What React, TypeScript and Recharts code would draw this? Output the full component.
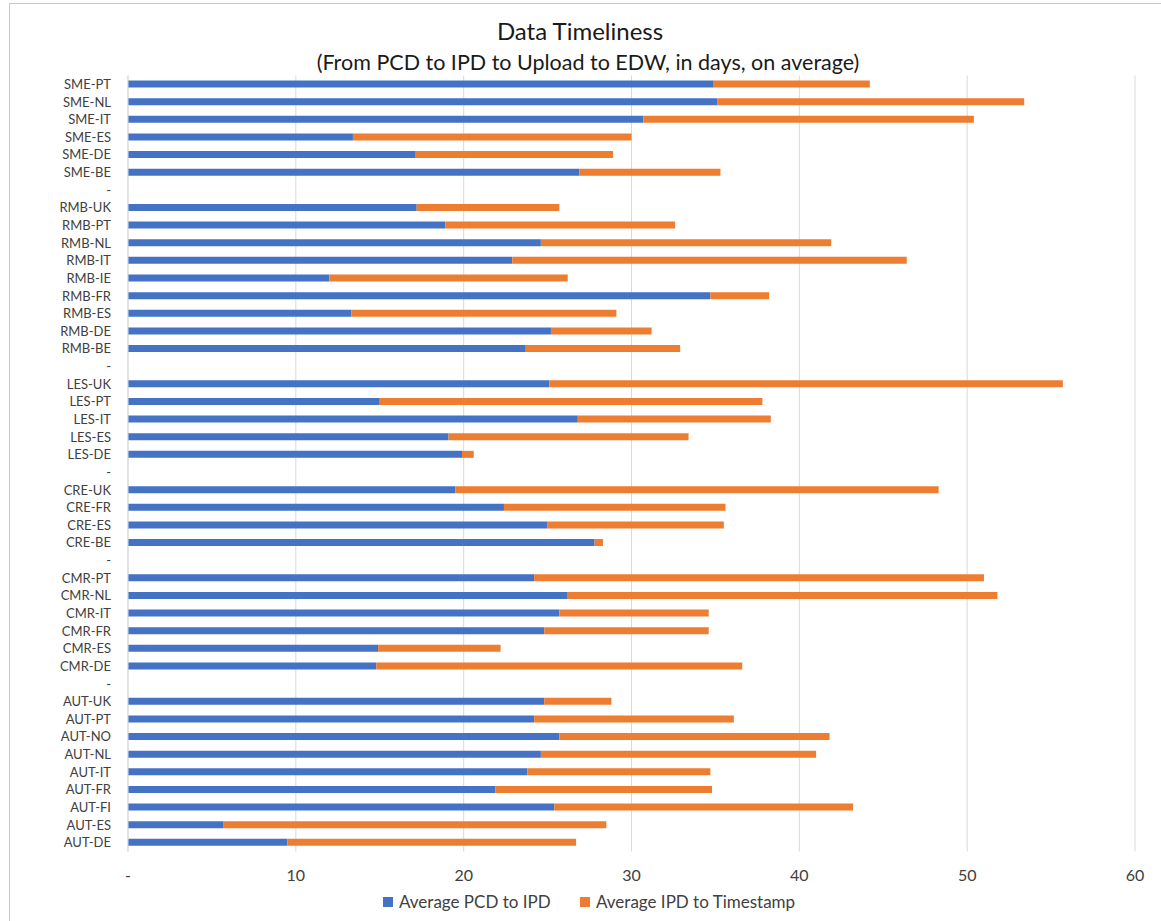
import React from "react";
import { BarChart, Bar, XAxis, YAxis, CartesianGrid } from "recharts";

const categories = [
  "SME-PT", "SME-NL", "SME-IT", "SME-ES", "SME-DE", "SME-BE", "-",
  "RMB-UK", "RMB-PT", "RMB-NL", "RMB-IT", "RMB-IE", "RMB-FR", "RMB-ES", "RMB-DE", "RMB-BE", "-",
  "LES-UK", "LES-PT", "LES-IT", "LES-ES", "LES-DE", "-",
  "CRE-UK", "CRE-FR", "CRE-ES", "CRE-BE", "-",
  "CMR-PT", "CMR-NL", "CMR-IT", "CMR-FR", "CMR-ES", "CMR-DE", "-",
  "AUT-UK", "AUT-PT", "AUT-NO", "AUT-NL", "AUT-IT", "AUT-FR", "AUT-FI", "AUT-ES", "AUT-DE",
];

const pcdToIpd = [
  34.9, 35.1, 30.7, 13.4, 17.1, 26.9, null,
  17.2, 18.9, 24.6, 22.9, 12.0, 34.7, 13.3, 25.2, 23.7, null,
  25.1, 15.0, 26.8, 19.1, 19.9, null,
  19.5, 22.4, 25.0, 27.8, null,
  24.2, 26.2, 25.7, 24.8, 14.9, 14.8, null,
  24.8, 24.2, 25.7, 24.6, 23.8, 21.9, 25.4, 5.7, 9.5,
];

const ipdToTimestamp = [
  9.3, 18.3, 19.7, 16.6, 11.8, 8.4, null,
  8.5, 13.7, 17.3, 23.5, 14.2, 3.5, 15.8, 6.0, 9.2, null,
  30.6, 22.8, 11.5, 14.3, 0.7, null,
  28.8, 13.2, 10.5, 0.5, null,
  26.8, 25.6, 8.9, 9.8, 7.3, 21.8, null,
  4.0, 11.9, 16.1, 16.4, 10.9, 12.9, 17.8, 22.8, 17.2,
];

const xTicks = [0, 10, 20, 30, 40, 50, 60];

const seriesNames = ["Average PCD to IPD", "Average IPD to Timestamp"];
const seriesColors = ["#4472C4", "#ED7D31"];

const data = categories.map((label, i) => ({
  key: `${i}`,
  label,
  pcd: pcdToIpd[i],
  ipd: ipdToTimestamp[i],
}));

const FONT = "Lato, 'Open Sans', sans-serif";

export default function App() {
  return (
    <div
      style={{
        position: "absolute",
        left: 0,
        top: 0,
        width: 1161,
        height: 921,
        background: "#fff",
        overflow: "hidden",
        fontFamily: FONT,
      }}
    >
      <div
        style={{
          position: "absolute",
          left: 9,
          top: 3,
          width: 1170,
          height: 940,
          border: "1px solid #c8c8c8",
          boxSizing: "border-box",
        }}
      />
      <div
        style={{
          position: "absolute",
          left: 380,
          width: 400,
          top: 17,
          textAlign: "center",
          fontSize: 24,
          color: "#1a1a1a",
          lineHeight: "28px",
        }}
      >
        Data Timeliness
      </div>
      <div
        style={{
          position: "absolute",
          left: 238,
          width: 700,
          top: 49,
          textAlign: "center",
          fontSize: 21.5,
          color: "#1a1a1a",
          lineHeight: "26px",
        }}
      >
        (From PCD to IPD to Upload to EDW, in days, on average)
      </div>
      <div style={{ position: "absolute", left: 0, top: 0 }}>
        <BarChart
          width={1161}
          height={921}
          data={data}
          layout="vertical"
          barCategoryGap="60%"
          margin={{ top: 75.5, right: 26, bottom: 39.5, left: 8 }}
        >
          <CartesianGrid horizontal={false} stroke="#d9d9d9" strokeWidth={1} />
          <XAxis
            type="number"
            domain={[0, 60]}
            ticks={xTicks}
            tickFormatter={(v: number) => (v === 0 ? "-" : String(v))}
            axisLine={false}
            tickLine={false}
            tickSize={0}
            tickMargin={18}
            height={30}
            tick={{ fontSize: 16, fill: "#404040", fontFamily: FONT }}
          />
          <YAxis
            type="category"
            dataKey="key"
            width={120}
            interval={0}
            tickFormatter={(v: string) => categories[Number(v)]}
            axisLine={{ stroke: "#d9d9d9" }}
            tickLine={false}
            tickSize={0}
            tickMargin={17}
            tick={{ fontSize: 13, fill: "#404040", fontFamily: FONT }}
          />
          <Bar
            dataKey="pcd"
            stackId="a"
            fill={seriesColors[0]}
            barSize={7}
            isAnimationActive={false}
          />
          <Bar
            dataKey="ipd"
            stackId="a"
            fill={seriesColors[1]}
            barSize={7}
            isAnimationActive={false}
          />
        </BarChart>
      </div>
      <div
        style={{
          position: "absolute",
          top: 891,
          left: 0,
          width: 1161,
          height: 22,
          fontSize: 17,
          color: "#404040",
        }}
      >
        {seriesNames.map((name, i) => (
          <div
            key={name}
            style={{
              position: "absolute",
              left: i === 0 ? 383 : 580,
              top: 0,
              display: "flex",
              alignItems: "center",
              whiteSpace: "nowrap",
              lineHeight: "22px",
            }}
          >
            <span
              style={{
                display: "inline-block",
                width: 10,
                height: 10,
                background: seriesColors[i],
                marginRight: 6,
              }}
            />
            {name}
          </div>
        ))}
      </div>
    </div>
  );
}
